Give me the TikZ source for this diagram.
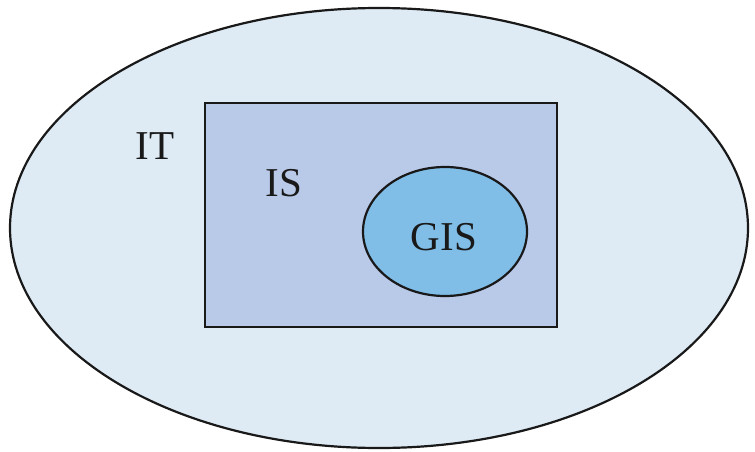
\documentclass[tikz,border=0pt]{standalone}
\usepackage{fontspec}
\setmainfont{Liberation Serif}
\begin{document}
\begin{tikzpicture}[x=1pt,y=-1pt,
  lbl/.style={font=\fontsize{41}{46}\selectfont, text=black!90},
  edge/.style={draw=black!90, line width=2.2pt}]
\definecolor{itfill}{HTML}{DEEBF5}
\definecolor{isfill}{HTML}{B9C9E8}
\definecolor{gisfill}{HTML}{80BEE8}
\useasboundingbox (0,0) rectangle (755,452);
\clip (0,0) rectangle (755,452);
\fill[white] (0,0) rectangle (755,452);
\draw[edge, fill=itfill] (379,228) ellipse [x radius=369, y radius=220];
\node[edge, fill=isfill, rectangle, minimum width=352pt, minimum height=224pt, inner sep=0pt] (is) at (381,215) {};
\draw[edge, fill=gisfill] (445,231.5) ellipse [x radius=82, y radius=64.5];
\node[lbl] (it) at (155,146) {IT};
\node[lbl] (isl) at (284,183) {IS};
\node[lbl] (gis) at (444,237) {GIS};
\end{tikzpicture}
\end{document}
